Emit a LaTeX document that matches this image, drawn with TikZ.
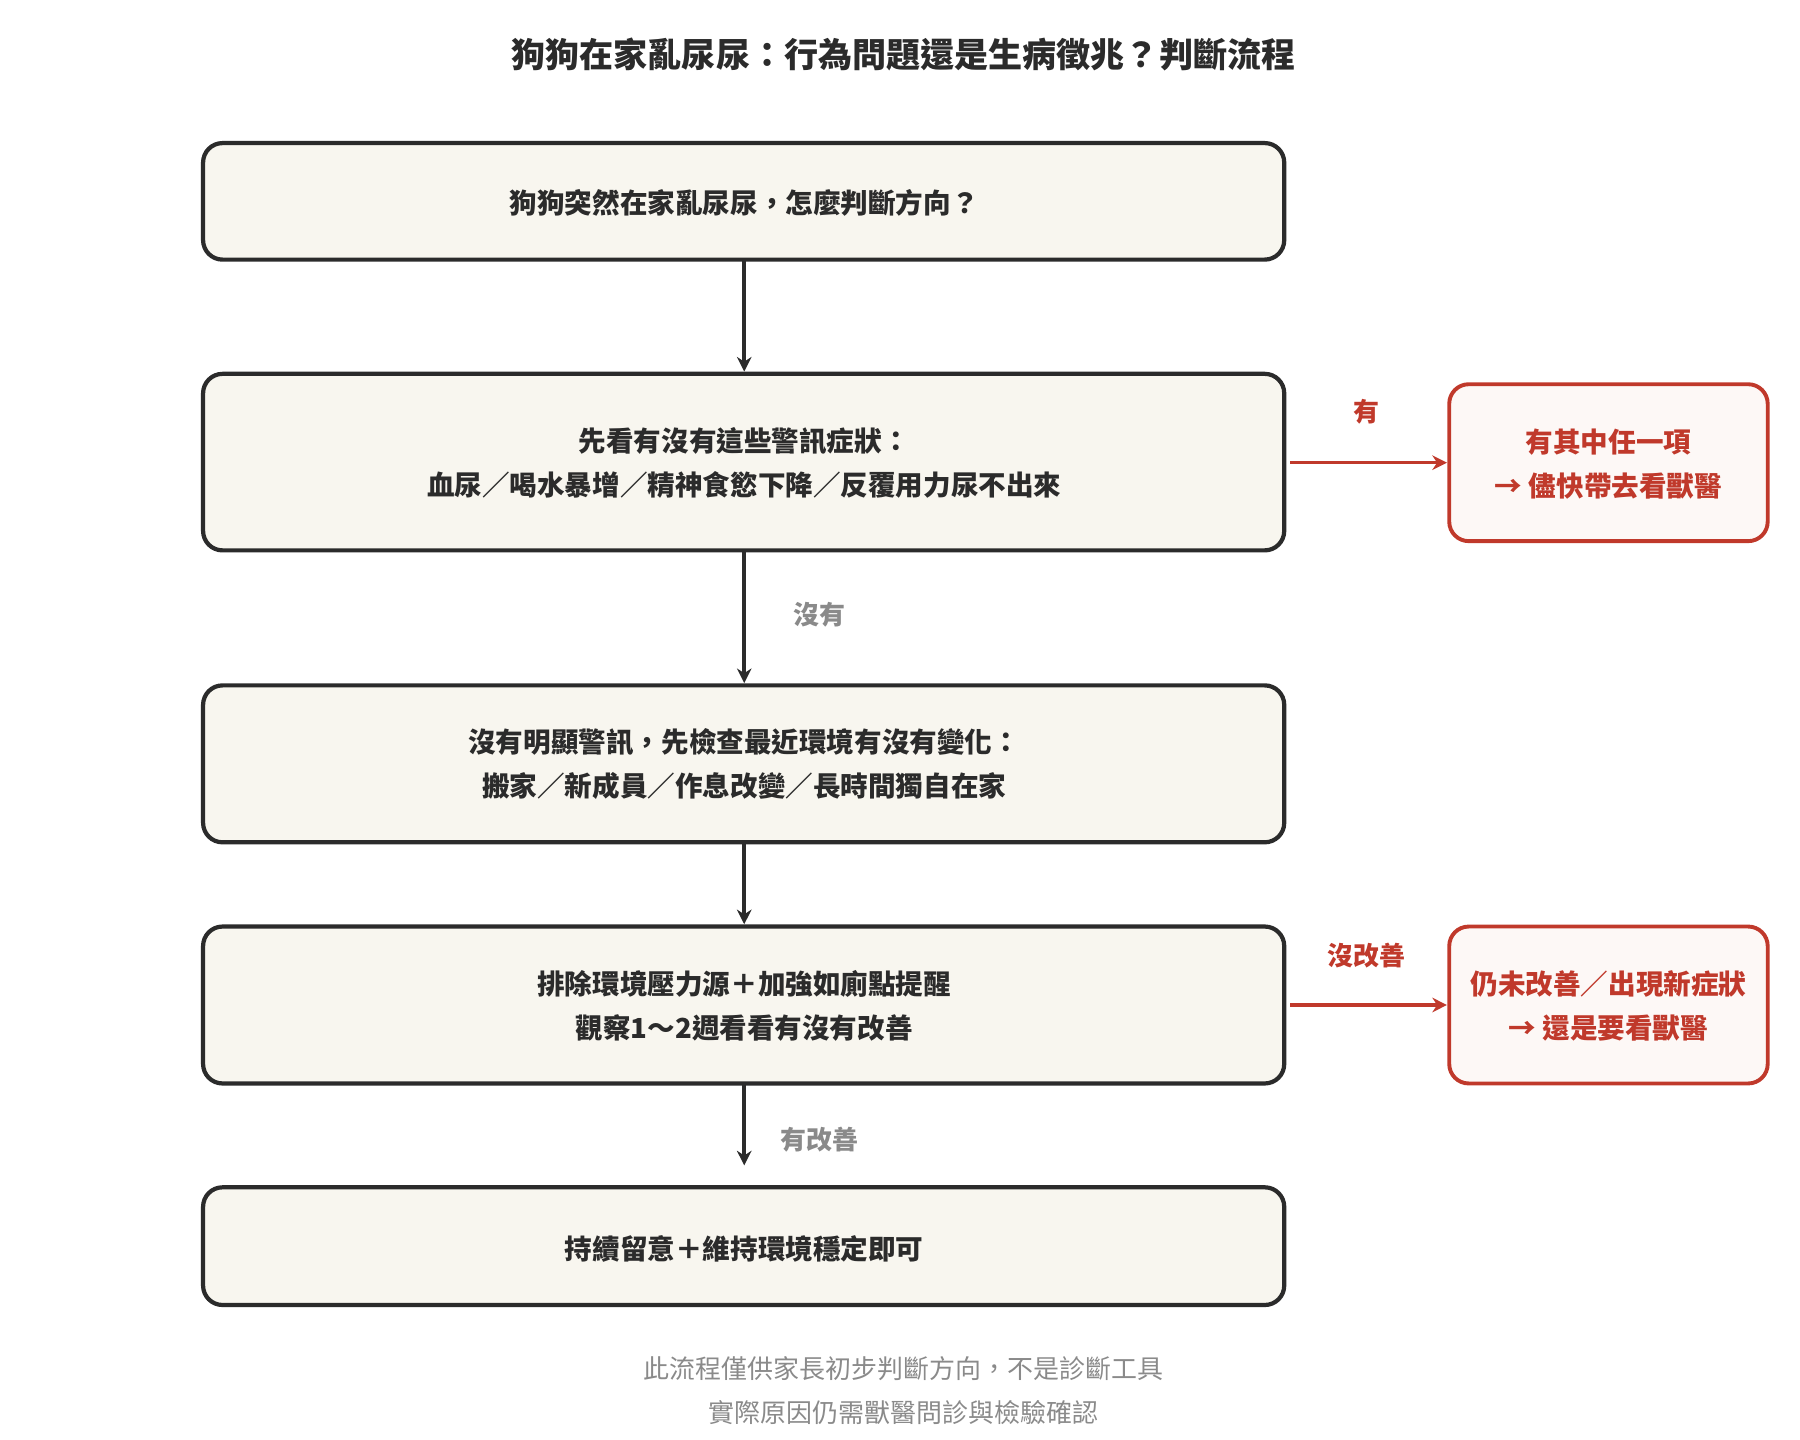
\documentclass[tikz,border=0pt]{standalone}
\usepackage{fontspec}
\setmainfont{Noto Sans CJK TC}
\newfontfamily\cjkb{Noto Sans CJK TC}[BoldFont={* Bold}]
\usetikzlibrary{arrows.meta}
\definecolor{ink}{HTML}{2B2B2B}
\definecolor{boxfill}{HTML}{F8F6EF}
\definecolor{redc}{HTML}{C0392B}
\definecolor{redfill}{HTML}{FDF8F6}
\definecolor{grayt}{HTML}{8A8A8A}
\begin{document}
\begin{tikzpicture}[x=0.025cm,y=-0.025cm,
 main/.style={draw=ink,line width=2.6pt,fill=boxfill,rounded corners=12pt},
 side/.style={draw=redc,line width=2.4pt,fill=redfill,rounded corners=12pt},
 t/.style={font=\fontsize{17}{27}\selectfont\bfseries,text=ink,align=center},
 rt/.style={font=\fontsize{17}{27}\selectfont\bfseries,text=redc,align=center},
 arr/.style={draw=ink,line width=2.2pt,-{Stealth[length=9pt,width=9pt]}},
 rarr/.style={draw=redc,line width=2.2pt,-{Stealth[length=9pt,width=9pt]}},
 lab/.style={font=\fontsize{16}{20}\selectfont\bfseries,text=grayt},
 rlab/.style={font=\fontsize{16}{20}\selectfont\bfseries,text=redc}]
\useasboundingbox (0,0) rectangle (1560,1248);
\node[font=\fontsize{21}{26}\selectfont\bfseries,text=ink] (title) at (783,47) {狗狗在家亂尿尿：行為問題還是生病徵兆？判斷流程};
\draw[main] (176,124) rectangle (1113,225);
\node[t] (b1) at (645,176) {狗狗突然在家亂尿尿，怎麼判斷方向？};
\coordinate (b1s) at (645,225);
\draw[main] (176,324) rectangle (1113,477);
\node[t] (b2) at (645,401) {先看有沒有這些警訊症狀：\\血尿／喝水暴增／精神食慾下降／反覆用力尿不出來};
\coordinate (b2n) at (645,322); \coordinate (b2s) at (645,477); \coordinate (b2e) at (1118,401);
\draw[main] (176,594) rectangle (1113,730);
\node[t] (b3) at (645,662) {沒有明顯警訊，先檢查最近環境有沒有變化：\\搬家／新成員／作息改變／長時間獨自在家};
\coordinate (b3n) at (645,592); \coordinate (b3s) at (645,730);
\draw[main] (176,803) rectangle (1113,939);
\node[t] (b4) at (645,872) {排除環境壓力源＋加強如廁點提醒\\觀察1～2週看看有沒有改善};
\coordinate (b4n) at (645,801); \coordinate (b4s) at (645,939); \coordinate (b4e) at (1118,871);
\draw[main] (176,1029) rectangle (1113,1131);
\node[t] (b5) at (645,1082) {持續留意＋維持環境穩定即可};
\coordinate (b5n) at (645,1010);
\draw[side] (1256,333) rectangle (1532,469);
\node[rt] (r1) at (1394,402) {有其中任一項\\→ 儘快帶去看獸醫};
\coordinate (r1w) at (1254,401);
\draw[side] (1256,803) rectangle (1532,939);
\node[rt] (r2) at (1394,872) {仍未改善／出現新症狀\\→ 還是要看獸醫};
\coordinate (r2w) at (1254,871);
\draw[arr] (b1s) -- (b2n);
\draw[arr] (b2s) -- (b3n);
\draw[arr] (b3s) -- (b4n);
\draw[arr] (b4s) -- (b5n);
\draw[rarr] (b2e) -- (r1w);
\draw[rarr] (b4e) -- (r2w);
\node[lab] (l1) at (710,533) {沒有};
\node[lab] (l2) at (710,988) {有改善};
\node[rlab] (l3) at (1184,357) {有};
\node[rlab] (l4) at (1184,828) {沒改善};
\node[font=\fontsize{16}{27}\selectfont,text=grayt,align=center] (foot) at (783,1205) {此流程僅供家長初步判斷方向，不是診斷工具\\實際原因仍需獸醫問診與檢驗確認};
\end{tikzpicture}
\end{document}
